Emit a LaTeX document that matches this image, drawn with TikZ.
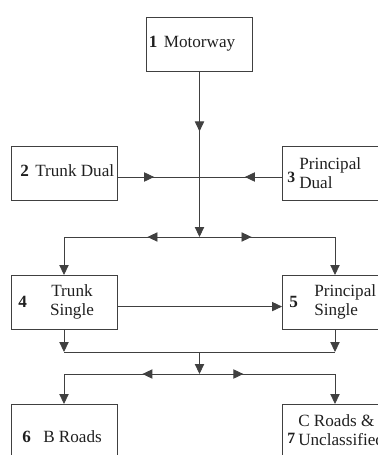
\documentclass[tikz,border=0pt]{standalone}
\usepackage{fontspec}
\setmainfont{Liberation Serif}
\usetikzlibrary{positioning,calc,arrows.meta,decorations.markings}

\definecolor{linegray}{gray}{0.25}
\definecolor{inkgray}{gray}{0.12}

\begin{document}
\begin{tikzpicture}[
    node distance=52.5pt,
    font=\fontsize{12}{13.5}\selectfont,
    box/.style={rectangle, draw=linegray, line width=0.6pt, minimum width=74.2pt, minimum height=37.8pt, inner sep=0pt, outer sep=0pt},
    lbl/.style={inner sep=0pt, text=inkgray, anchor=west},
    num/.style={lbl, font=\fontsize{12}{13.5}\selectfont\bfseries},
    link/.style={draw=linegray, color=linegray, line width=0.6pt},
    arrow/.style={link, -{Triangle[length=7pt, width=6.5pt]}},
    midarrow/.style={link, postaction={decorate}, decoration={markings, mark=at position #1 with {\arrow{Triangle[length=7pt, width=6.5pt]}}}}
]
    \useasboundingbox (-44.8pt,121.1pt) rectangle (219.8pt,-197.4pt);
    \clip (-44.8pt,121.1pt) rectangle (219.8pt,-197.4pt);

    % boxes
    \node[box] (tdual) {};
    \node[box, right=115.5pt of tdual] (pdual) {};
    \coordinate (top) at ($(tdual.north)!0.5!(pdual.north)$);
    \node[box, above=of top] (motor) {};
    \node[box, below=of tdual] (tsingle) {};
    \node[box, below=of pdual] (psingle) {};
    \node[box, below=of tsingle] (broads) {};
    \node[box, below=of psingle] (croads) {};

    % labels
    \node[lbl] (t1) at ([xshift=1.4pt]motor.west) {\textbf{1}\hspace{4.5pt}Motorway};
    \node[lbl] (t2) at ([xshift=6.3pt, yshift=1.4pt]tdual.west) {\textbf{2}\hspace{4.5pt}Trunk Dual};
    \node[num, font=\fontsize{11}{13}\selectfont\bfseries] (n3) at ([xshift=3.5pt, yshift=-2.8pt]pdual.west) {3};
    \node[lbl, align=left] (t3) at ([xshift=11.9pt]pdual.west) {Principal\\Dual};
    \node[num] (n4) at ([xshift=4.9pt]tsingle.west) {4};
    \node[lbl, align=center, anchor=center] (t4) at ([xshift=5.6pt]tsingle.center) {Trunk\\Single};
    \node[num] (n5) at ([xshift=4.9pt]psingle.west) {5};
    \node[lbl, align=left] (t5) at ([xshift=22.4pt]psingle.west) {Principal\\Single};
    \node[num] (n6) at ([xshift=7.7pt, yshift=-4.2pt]broads.west) {6};
    \node[lbl] (t6) at ([xshift=22.4pt, yshift=-4.2pt]broads.west) {B Roads};
    \node[num, font=\fontsize{11}{13}\selectfont\bfseries] (n7) at ([xshift=3.5pt, yshift=-4.9pt]croads.west) {7};
    \node[lbl, align=left] (t7) at ([xshift=11.2pt, yshift=0.7pt]croads.west) {C Roads \&\\Unclassified};

    % junctions
    \coordinate (hub1) at ($(motor.south |- tdual.east)+(0,-2.8pt)$);
    \coordinate (hub2) at ($(motor.south |- tsingle.north)+(0,26.6pt)$);
    \coordinate (hub3) at ($(motor.south |- tsingle.south)+(0,-16.1pt)$);
    \coordinate (hub4) at ($(motor.south |- broads.north)+(0,21pt)$);

    % connectors
    \draw[midarrow=0.57] (motor) -- (hub1);
    \draw[midarrow=0.45] (tdual.east |- hub1) -- (hub1);
    \draw[midarrow=0.45] (pdual.west |- hub1) -- (hub1);
    \draw[arrow] (hub1) -- (hub2);
    \draw[midarrow=0.3, arrow] (hub2) -| (tsingle.north);
    \draw[midarrow=0.3, arrow] (hub2) -| (psingle.north);
    \draw[arrow] ([yshift=-3.2pt]tsingle.east) -- ([yshift=-3.2pt]psingle.west);
    \draw[arrow] (tsingle.south) -- (tsingle.south |- hub3);
    \draw[arrow] (psingle.south) -- (psingle.south |- hub3);
    \draw[link] (tsingle.south |- hub3) -- (psingle.south |- hub3);
    \draw[arrow] (hub3) -- (hub4);
    \draw[midarrow=0.345, arrow] (hub4) -| (broads.north);
    \draw[midarrow=0.265, arrow] (hub4) -| (croads.north);
\end{tikzpicture}
\end{document}
